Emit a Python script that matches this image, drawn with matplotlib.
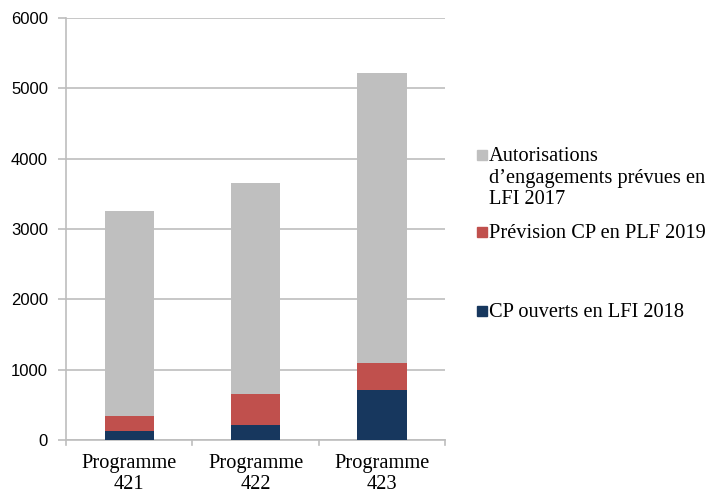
import matplotlib
matplotlib.use("Agg")
import matplotlib.pyplot as plt
import numpy as np
from matplotlib.patches import Rectangle

programmes = ["Programme\n421", "Programme\n422", "Programme\n423"]
cp_lfi_2018 = [132, 213, 711]
prevision_plf_2019 = [209, 437, 389]
ae_lfi_2017 = [2909, 3005, 4116]

series = [
    ("CP ouverts en LFI 2018", cp_lfi_2018, "#17375E"),
    ("Prévision CP en PLF 2019", prevision_plf_2019, "#C0504D"),
    ("Autorisations\nd\u2019engagements prévues en\nLFI 2017", ae_lfi_2017, "#BFBFBF"),
]

plt.rcParams["font.family"] = ["Liberation Serif", "DejaVu Serif"]
GRID = "#BEBEBE"
FS = 14.7

fig = plt.figure(figsize=(7.1, 4.95), dpi=100)
ax = fig.add_axes([0.093, 0.111, 0.534, 0.853])

x = np.arange(len(programmes))
bottom = np.zeros(len(programmes))
for label, vals, color in series:
    ax.bar(x, vals, width=0.39, bottom=bottom, color=color, zorder=3)
    bottom += np.array(vals)

ax.set_xlim(-0.5, len(programmes) - 0.5)
ax.set_ylim(0, 6000)
ax.set_yticks(range(0, 6001, 1000))
ax.yaxis.grid(True, color=GRID, linewidth=1.2, zorder=0)
ax.set_xticks(x)
ax.set_xticklabels(programmes, fontsize=FS, linespacing=1.15)
for lbl in ax.get_yticklabels():
    lbl.set_fontfamily("Liberation Sans")
ax.tick_params(axis="x", length=0, pad=10)
ax.tick_params(axis="y", labelsize=12, length=6, color=GRID, width=1.2, pad=7)
# category separators below the axis
for b in np.arange(-0.5, len(programmes), 1.0):
    ax.plot([b, b], [0, -0.012], transform=ax.get_xaxis_transform(),
            color=GRID, lw=1.2, clip_on=False)

for side in ("top", "right"):
    ax.spines[side].set_visible(False)
for side in ("left", "bottom"):
    ax.spines[side].set_color(GRID)
    ax.spines[side].set_linewidth(1.2)

# legend drawn by hand, squares aligned on the first text line
W, H = 710, 495
legend_rows = [(series[2], 161), (series[1], 238), (series[0], 317)]
for (label, _, color), base in legend_rows:
    fig.patches.append(Rectangle((477 / W, 1 - (base - 1) / H), 10 / W, 10 / H,
                                 transform=fig.transFigure, color=color))
    first, *rest = label.split("\n")
    fig.text(489 / W, 1 - base / H, first, fontsize=FS, va="baseline", ha="left")
    for i, line in enumerate(rest, start=1):
        fig.text(489 / W, 1 - (base + 21.7 * i) / H, line, fontsize=FS,
                 va="baseline", ha="left")

fig.savefig("out.png", dpi=100)
